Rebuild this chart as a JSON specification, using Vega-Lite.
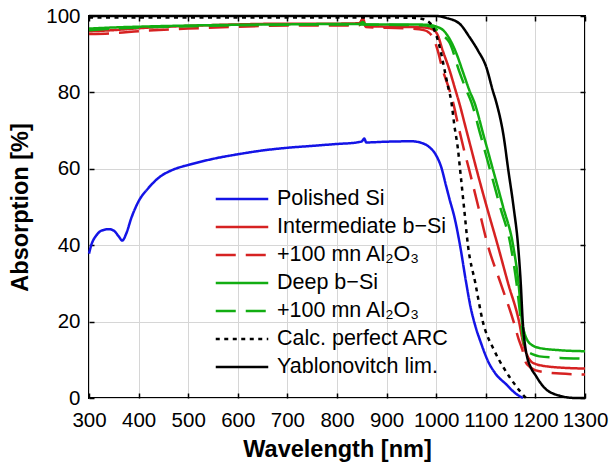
{
  "$schema": "https://vega.github.io/schema/vega-lite/v6.json",
  "width": 496,
  "height": 382,
  "autosize": {"type": "none"},
  "padding": {"left": 89, "top": 16, "right": 26, "bottom": 66},
  "background": "white",
  "config": {
    "view": {"stroke": "black", "strokeWidth": 2},
    "font": "Liberation Sans",
    "axis": {
      "labelFont": "Liberation Sans",
      "titleFont": "Liberation Sans",
      "labelFontSize": 20.5,
      "titleFontSize": 23.5,
      "titleFontWeight": "bold",
      "labelColor": "black",
      "titleColor": "black",
      "tickColor": "black",
      "tickWidth": 1.5,
      "tickSize": -5,
      "domain": false,
      "gridColor": "#d6d6d6",
      "gridWidth": 1
    }
  },
  "data": {"values": [
    {"series":"Polished Si","x":300,"y":37.8},{"series":"Polished Si","x":305,"y":40.2},{"series":"Polished Si","x":315,"y":42.6},{"series":"Polished Si","x":325,"y":43.8},{"series":"Polished Si","x":340,"y":44.2},{"series":"Polished Si","x":350,"y":43.8},{"series":"Polished Si","x":360,"y":42.3},{"series":"Polished Si","x":367,"y":41.2},{"series":"Polished Si","x":375,"y":43},{"series":"Polished Si","x":385,"y":47},{"series":"Polished Si","x":400,"y":51.5},{"series":"Polished Si","x":420,"y":55},{"series":"Polished Si","x":440,"y":57.6},{"series":"Polished Si","x":470,"y":59.8},{"series":"Polished Si","x":500,"y":61},{"series":"Polished Si","x":550,"y":62.6},{"series":"Polished Si","x":600,"y":63.8},{"series":"Polished Si","x":650,"y":64.8},{"series":"Polished Si","x":700,"y":65.5},{"series":"Polished Si","x":750,"y":66},{"series":"Polished Si","x":800,"y":66.5},{"series":"Polished Si","x":840,"y":66.9},{"series":"Polished Si","x":850,"y":67.2},{"series":"Polished Si","x":855,"y":67.9},{"series":"Polished Si","x":859,"y":66.9},{"series":"Polished Si","x":900,"y":67.1},{"series":"Polished Si","x":950,"y":67.2},{"series":"Polished Si","x":970,"y":66.8},{"series":"Polished Si","x":985,"y":65.8},{"series":"Polished Si","x":1000,"y":63.5},{"series":"Polished Si","x":1010,"y":60.5},{"series":"Polished Si","x":1020,"y":55.5},{"series":"Polished Si","x":1027,"y":52},{"series":"Polished Si","x":1037,"y":47.2},{"series":"Polished Si","x":1048,"y":40},{"series":"Polished Si","x":1060,"y":30.5},{"series":"Polished Si","x":1069,"y":24},{"series":"Polished Si","x":1079,"y":18.8},{"series":"Polished Si","x":1090,"y":14.5},{"series":"Polished Si","x":1105,"y":9.5},{"series":"Polished Si","x":1120,"y":6.3},{"series":"Polished Si","x":1141,"y":3.6},{"series":"Polished Si","x":1160,"y":1.2},{"series":"Polished Si","x":1175,"y":0},

    {"series":"Intermediate b−Si","x":300,"y":96},{"series":"Intermediate b−Si","x":350,"y":96.3},{"series":"Intermediate b−Si","x":400,"y":96.8},{"series":"Intermediate b−Si","x":500,"y":97.4},{"series":"Intermediate b−Si","x":600,"y":97.8},{"series":"Intermediate b−Si","x":700,"y":98},{"series":"Intermediate b−Si","x":800,"y":98},{"series":"Intermediate b−Si","x":845,"y":98.1},{"series":"Intermediate b−Si","x":852,"y":99.3},{"series":"Intermediate b−Si","x":858,"y":97.6},{"series":"Intermediate b−Si","x":870,"y":97.3},{"series":"Intermediate b−Si","x":900,"y":97.2},{"series":"Intermediate b−Si","x":950,"y":97.1},{"series":"Intermediate b−Si","x":975,"y":97},{"series":"Intermediate b−Si","x":993,"y":96.5},{"series":"Intermediate b−Si","x":1003,"y":95},{"series":"Intermediate b−Si","x":1013,"y":91},{"series":"Intermediate b−Si","x":1027,"y":85.8},{"series":"Intermediate b−Si","x":1037,"y":81.4},{"series":"Intermediate b−Si","x":1047,"y":77},{"series":"Intermediate b−Si","x":1059,"y":71},{"series":"Intermediate b−Si","x":1071,"y":65},{"series":"Intermediate b−Si","x":1081,"y":60},{"series":"Intermediate b−Si","x":1102,"y":50},{"series":"Intermediate b−Si","x":1124,"y":40},{"series":"Intermediate b−Si","x":1145,"y":30},{"series":"Intermediate b−Si","x":1167,"y":20},{"series":"Intermediate b−Si","x":1176,"y":14},{"series":"Intermediate b−Si","x":1183,"y":11.3},{"series":"Intermediate b−Si","x":1195,"y":9.2},{"series":"Intermediate b−Si","x":1228,"y":8.2},{"series":"Intermediate b−Si","x":1300,"y":7.7},

    {"series":"Intermediate +100 mn Al₂O₃","x":300,"y":95.3},{"series":"Intermediate +100 mn Al₂O₃","x":350,"y":95.5},{"series":"Intermediate +100 mn Al₂O₃","x":400,"y":96},{"series":"Intermediate +100 mn Al₂O₃","x":500,"y":96.7},{"series":"Intermediate +100 mn Al₂O₃","x":600,"y":97.2},{"series":"Intermediate +100 mn Al₂O₃","x":700,"y":97.5},{"series":"Intermediate +100 mn Al₂O₃","x":800,"y":97.5},{"series":"Intermediate +100 mn Al₂O₃","x":845,"y":97.6},{"series":"Intermediate +100 mn Al₂O₃","x":852,"y":98.6},{"series":"Intermediate +100 mn Al₂O₃","x":858,"y":97.1},{"series":"Intermediate +100 mn Al₂O₃","x":900,"y":96.9},{"series":"Intermediate +100 mn Al₂O₃","x":950,"y":96.7},{"series":"Intermediate +100 mn Al₂O₃","x":975,"y":96.3},{"series":"Intermediate +100 mn Al₂O₃","x":985,"y":95.7},{"series":"Intermediate +100 mn Al₂O₃","x":993,"y":94.5},{"series":"Intermediate +100 mn Al₂O₃","x":1003,"y":91},{"series":"Intermediate +100 mn Al₂O₃","x":1013,"y":85.9},{"series":"Intermediate +100 mn Al₂O₃","x":1024,"y":81.7},{"series":"Intermediate +100 mn Al₂O₃","x":1034,"y":77.4},{"series":"Intermediate +100 mn Al₂O₃","x":1045,"y":71},{"series":"Intermediate +100 mn Al₂O₃","x":1056,"y":65},{"series":"Intermediate +100 mn Al₂O₃","x":1066,"y":60},{"series":"Intermediate +100 mn Al₂O₃","x":1085,"y":50},{"series":"Intermediate +100 mn Al₂O₃","x":1104,"y":40},{"series":"Intermediate +100 mn Al₂O₃","x":1130,"y":30},{"series":"Intermediate +100 mn Al₂O₃","x":1156,"y":20},{"series":"Intermediate +100 mn Al₂O₃","x":1166,"y":15.5},{"series":"Intermediate +100 mn Al₂O₃","x":1174,"y":12.5},{"series":"Intermediate +100 mn Al₂O₃","x":1180,"y":9.5},{"series":"Intermediate +100 mn Al₂O₃","x":1190,"y":8},{"series":"Intermediate +100 mn Al₂O₃","x":1208,"y":7},{"series":"Intermediate +100 mn Al₂O₃","x":1250,"y":6.4},{"series":"Intermediate +100 mn Al₂O₃","x":1300,"y":6.15},

    {"series":"Deep b−Si","x":300,"y":96.7},{"series":"Deep b−Si","x":350,"y":97},{"series":"Deep b−Si","x":400,"y":97.2},{"series":"Deep b−Si","x":500,"y":97.5},{"series":"Deep b−Si","x":600,"y":97.7},{"series":"Deep b−Si","x":700,"y":97.8},{"series":"Deep b−Si","x":800,"y":97.9},{"series":"Deep b−Si","x":845,"y":97.9},{"series":"Deep b−Si","x":852,"y":98.4},{"series":"Deep b−Si","x":858,"y":97.8},{"series":"Deep b−Si","x":900,"y":97.8},{"series":"Deep b−Si","x":950,"y":97.8},{"series":"Deep b−Si","x":980,"y":97.7},{"series":"Deep b−Si","x":993,"y":97.5},{"series":"Deep b−Si","x":1003,"y":97.1},{"series":"Deep b−Si","x":1014,"y":96.3},{"series":"Deep b−Si","x":1027,"y":94},{"series":"Deep b−Si","x":1041,"y":90.1},{"series":"Deep b−Si","x":1054,"y":85.3},{"series":"Deep b−Si","x":1067,"y":80.5},{"series":"Deep b−Si","x":1078,"y":77},{"series":"Deep b−Si","x":1095,"y":69},{"series":"Deep b−Si","x":1114,"y":60},{"series":"Deep b−Si","x":1135,"y":50},{"series":"Deep b−Si","x":1155,"y":40},{"series":"Deep b−Si","x":1166,"y":30},{"series":"Deep b−Si","x":1173,"y":20},{"series":"Deep b−Si","x":1178,"y":17},{"series":"Deep b−Si","x":1183,"y":15.3},{"series":"Deep b−Si","x":1195,"y":13.7},{"series":"Deep b−Si","x":1208,"y":13.1},{"series":"Deep b−Si","x":1250,"y":12.5},{"series":"Deep b−Si","x":1300,"y":12.25},

    {"series":"Deep +100 mn Al₂O₃","x":300,"y":96.3},{"series":"Deep +100 mn Al₂O₃","x":350,"y":96.7},{"series":"Deep +100 mn Al₂O₃","x":400,"y":97},{"series":"Deep +100 mn Al₂O₃","x":500,"y":97.3},{"series":"Deep +100 mn Al₂O₃","x":600,"y":97.6},{"series":"Deep +100 mn Al₂O₃","x":700,"y":97.7},{"series":"Deep +100 mn Al₂O₃","x":800,"y":97.8},{"series":"Deep +100 mn Al₂O₃","x":900,"y":97.7},{"series":"Deep +100 mn Al₂O₃","x":980,"y":97.5},{"series":"Deep +100 mn Al₂O₃","x":1000,"y":96.5},{"series":"Deep +100 mn Al₂O₃","x":1013,"y":95},{"series":"Deep +100 mn Al₂O₃","x":1027,"y":93},{"series":"Deep +100 mn Al₂O₃","x":1047,"y":85.3},{"series":"Deep +100 mn Al₂O₃","x":1061,"y":80.5},{"series":"Deep +100 mn Al₂O₃","x":1071,"y":77.4},{"series":"Deep +100 mn Al₂O₃","x":1089,"y":69},{"series":"Deep +100 mn Al₂O₃","x":1108,"y":60},{"series":"Deep +100 mn Al₂O₃","x":1129,"y":50},{"series":"Deep +100 mn Al₂O₃","x":1150,"y":40},{"series":"Deep +100 mn Al₂O₃","x":1162,"y":30},{"series":"Deep +100 mn Al₂O₃","x":1171,"y":20},{"series":"Deep +100 mn Al₂O₃","x":1176,"y":15},{"series":"Deep +100 mn Al₂O₃","x":1182,"y":12.5},{"series":"Deep +100 mn Al₂O₃","x":1195,"y":11.4},{"series":"Deep +100 mn Al₂O₃","x":1208,"y":10.9},{"series":"Deep +100 mn Al₂O₃","x":1250,"y":10.5},{"series":"Deep +100 mn Al₂O₃","x":1300,"y":10.3},

    {"series":"Calc. perfect ARC","x":300,"y":99.6},{"series":"Calc. perfect ARC","x":500,"y":99.6},{"series":"Calc. perfect ARC","x":700,"y":99.6},{"series":"Calc. perfect ARC","x":900,"y":99.6},{"series":"Calc. perfect ARC","x":960,"y":99.5},{"series":"Calc. perfect ARC","x":970,"y":99.3},{"series":"Calc. perfect ARC","x":980,"y":98.9},{"series":"Calc. perfect ARC","x":993,"y":97.2},{"series":"Calc. perfect ARC","x":1007,"y":91.9},{"series":"Calc. perfect ARC","x":1017,"y":85.8},{"series":"Calc. perfect ARC","x":1024,"y":81.4},{"series":"Calc. perfect ARC","x":1030,"y":78},{"series":"Calc. perfect ARC","x":1037,"y":71},{"series":"Calc. perfect ARC","x":1044,"y":65},{"series":"Calc. perfect ARC","x":1048,"y":60},{"series":"Calc. perfect ARC","x":1056,"y":50},{"series":"Calc. perfect ARC","x":1064,"y":40},{"series":"Calc. perfect ARC","x":1079,"y":30},{"series":"Calc. perfect ARC","x":1094,"y":20},{"series":"Calc. perfect ARC","x":1116,"y":12.7},{"series":"Calc. perfect ARC","x":1138,"y":7.5},{"series":"Calc. perfect ARC","x":1161,"y":3.1},{"series":"Calc. perfect ARC","x":1172,"y":1.3},{"series":"Calc. perfect ARC","x":1181,"y":0},

    {"series":"Yablonovitch lim.","x":300,"y":100},{"series":"Yablonovitch lim.","x":1000,"y":100},{"series":"Yablonovitch lim.","x":1020,"y":99.5},{"series":"Yablonovitch lim.","x":1047,"y":98},{"series":"Yablonovitch lim.","x":1067,"y":94.5},{"series":"Yablonovitch lim.","x":1084,"y":91},{"series":"Yablonovitch lim.","x":1101,"y":86.6},{"series":"Yablonovitch lim.","x":1114,"y":80.5},{"series":"Yablonovitch lim.","x":1122,"y":77},{"series":"Yablonovitch lim.","x":1136,"y":68.5},{"series":"Yablonovitch lim.","x":1145,"y":60},{"series":"Yablonovitch lim.","x":1156,"y":50},{"series":"Yablonovitch lim.","x":1165,"y":40},{"series":"Yablonovitch lim.","x":1170.5,"y":30},{"series":"Yablonovitch lim.","x":1174.5,"y":20},{"series":"Yablonovitch lim.","x":1178,"y":15},{"series":"Yablonovitch lim.","x":1183,"y":10.9},{"series":"Yablonovitch lim.","x":1190,"y":8.2},{"series":"Yablonovitch lim.","x":1201,"y":5.8},{"series":"Yablonovitch lim.","x":1210,"y":4},{"series":"Yablonovitch lim.","x":1222,"y":2.2},{"series":"Yablonovitch lim.","x":1235,"y":1.2},{"series":"Yablonovitch lim.","x":1249,"y":0.6},{"series":"Yablonovitch lim.","x":1265,"y":0.15},{"series":"Yablonovitch lim.","x":1280,"y":0},{"series":"Yablonovitch lim.","x":1300,"y":0}
  ]},
  "layer": [
    {
      "mark": {"type": "line", "strokeWidth": 2.5, "interpolate": "monotone"},
      "encoding": {
        "x": {
          "field": "x", "type": "quantitative",
          "scale": {"domain": [300, 1300], "nice": false},
          "axis": {"values": [300,400,500,600,700,800,900,1000,1100,1200,1300], "format": "d", "title": "Wavelength [nm]", "grid": true, "labelPadding": 17, "titlePadding": 7, "labelFlush": false}
        },
        "y": {
          "field": "y", "type": "quantitative",
          "scale": {"domain": [0, 100], "nice": false},
          "axis": {"values": [0,20,40,60,80,100], "title": "Absorption [%]", "grid": true, "labelPadding": 14, "titlePadding": 13}
        },
        "color": {
          "field": "series", "type": "nominal",
          "scale": {
            "domain": ["Polished Si","Intermediate b−Si","Intermediate +100 mn Al₂O₃","Deep b−Si","Deep +100 mn Al₂O₃","Calc. perfect ARC","Yablonovitch lim."],
            "range": ["#1414e6","#d62222","#d62222","#12ad12","#12ad12","#000000","#000000"]
          },
          "legend": {"title": null, "orient": "none", "legendX": 127, "legendY": 171, "symbolType": "M-2.5,0H2.5", "symbolSize": 441, "symbolStrokeWidth": 2.5, "symbolOffset": 14, "labelFontSize": 21.5, "labelFont": "Liberation Sans", "labelColor": "black", "labelOffset": 23, "rowPadding": 5, "padding": 0, "labelLimit": 400, "labelExpr": "indexof(datum.label, '+') >= 0 ? '+100 mn Al₂O₃' : datum.label"}
        },
        "strokeDash": {
          "field": "series", "type": "nominal",
          "scale": {
            "domain": ["Polished Si","Intermediate b−Si","Intermediate +100 mn Al₂O₃","Deep b−Si","Deep +100 mn Al₂O₃","Calc. perfect ARC","Yablonovitch lim."],
            "range": [[1,0],[1,0],[20,10],[1,0],[20,10],[4,4.5],[1,0]]
          },
          "legend": {"title": null, "orient": "none", "legendX": 127, "legendY": 171, "symbolType": "M-2.5,0H2.5", "symbolSize": 441, "symbolStrokeWidth": 2.5, "symbolOffset": 14, "labelFontSize": 21.5, "labelFont": "Liberation Sans", "labelColor": "black", "labelOffset": 23, "rowPadding": 5, "padding": 0, "labelLimit": 400, "labelExpr": "indexof(datum.label, '+') >= 0 ? '+100 mn Al₂O₃' : datum.label"}
        }
      }
    },
    {
      "mark": {"type": "line", "opacity": 0},
      "encoding": {
        "x": {"field": "x", "type": "quantitative", "axis": {"orient": "top", "values": [300,400,500,600,700,800,900,1000,1100,1200,1300], "labels": false, "title": null, "grid": false}},
        "y": {"field": "y", "type": "quantitative", "axis": {"orient": "right", "values": [0,20,40,60,80,100], "labels": false, "title": null, "grid": false}}
      }
    }
  ],
  "resolve": {"axis": {"x": "independent", "y": "independent"}}
}
